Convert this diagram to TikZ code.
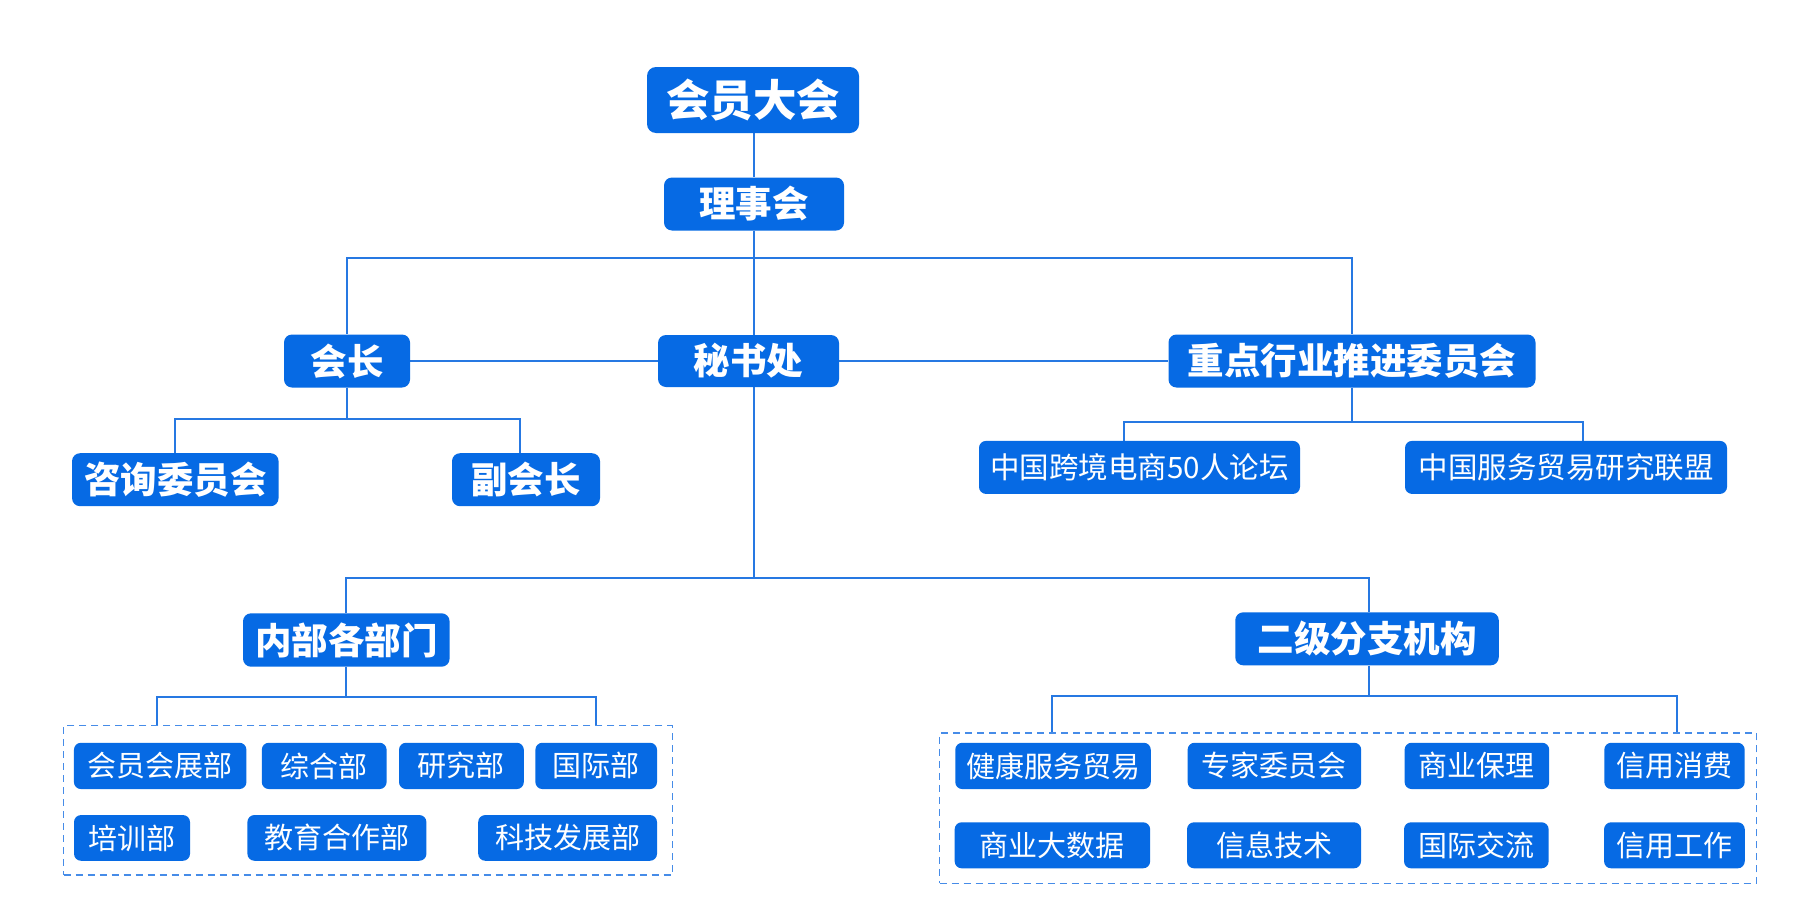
\documentclass[tikz,border=0pt]{standalone}
\usepackage{fontspec}
\newfontfamily\cjk{Noto Sans CJK SC}
\usetikzlibrary{backgrounds}
\definecolor{boxblue}{RGB}{6,106,228}
\definecolor{lineblue}{RGB}{38,120,226}
\definecolor{dashblue}{RGB}{70,140,232}
\tikzset{
  base/.style={fill=boxblue, text=white, inner sep=0pt, anchor=center},
  topbox/.style={base, rounded corners=9pt, font=\cjk\bfseries\fontsize{43.5}{47}\selectfont},
  bigbox/.style={base, rounded corners=8pt, font=\cjk\bfseries\fontsize{36.5}{40}\selectfont},
  midbox/.style={base, rounded corners=7pt, font=\cjk\fontsize{29.5}{33}\selectfont},
  smallbox/.style={base, rounded corners=7pt, font=\cjk\fontsize{29}{32}\selectfont},
  dashbox/.style={draw=dashblue, line width=1.4pt, dash pattern=on 7pt off 5pt, inner sep=0pt},
  conn/.style={draw=lineblue, line width=2pt},
}
\begin{document}
\begin{tikzpicture}[x=1pt,y=-1pt]
\useasboundingbox (0,0) rectangle (1801,918);

% dashed groups
\node[dashbox, minimum width=608.7pt, minimum height=149.3pt] (g1) at (368,800.4) {};
\node[dashbox, minimum width=817pt, minimum height=150.3pt] (g2) at (1348,808.2) {};

% main nodes
\node[topbox, minimum width=212pt, minimum height=66pt] (hy) at (753,100) {会员大会};
\node[bigbox, minimum width=180pt, minimum height=53pt] (lsh) at (754,204) {理事会};
\node[bigbox, minimum width=181pt, minimum height=52pt] (msc) at (748.5,361) {秘书处};
\node[bigbox, minimum width=126pt, minimum height=53pt] (hz) at (347,361) {会长};
\node[bigbox, minimum width=367pt, minimum height=53pt] (zd) at (1352,361) {重点行业推进委员会};
\node[bigbox, minimum width=206.5pt, minimum height=53pt] (zx) at (175.3,479.7) {咨询委员会};
\node[bigbox, minimum width=148pt, minimum height=53pt] (fhz) at (526,479.7) {副会长};
\node[midbox, minimum width=321pt, minimum height=53pt] (lt) at (1139.5,467.4) {中国跨境电商50人论坛};
\node[midbox, minimum width=322pt, minimum height=53pt] (lm) at (1566,467.4) {中国服务贸易研究联盟};
\node[bigbox, minimum width=206.6pt, minimum height=53.4pt] (nb) at (346.3,640) {内部各部门};
\node[bigbox, minimum width=263.5pt, minimum height=53pt] (ej) at (1367,638.8) {二级分支机构};

% left group
\node[smallbox, minimum width=172.5pt, minimum height=46.3pt] (a1) at (160.2,765.9) {会员会展部};
\node[smallbox, minimum width=124.8pt, minimum height=46.3pt] (a2) at (324.2,765.9) {综合部};
\node[smallbox, minimum width=124.8pt, minimum height=46.3pt] (a3) at (461.4,765.9) {研究部};
\node[smallbox, minimum width=121.6pt, minimum height=46.3pt] (a4) at (596.2,765.9) {国际部};
\node[smallbox, minimum width=116pt, minimum height=45.7pt] (b1) at (132,837.9) {培训部};
\node[smallbox, minimum width=179pt, minimum height=45.7pt] (b2) at (336.9,837.9) {教育合作部};
\node[smallbox, minimum width=178.8pt, minimum height=45.7pt] (b3) at (567.6,837.9) {科技发展部};

% right group
\node[smallbox, minimum width=195.5pt, minimum height=46.3pt] (c1) at (1053,765.9) {健康服务贸易};
\node[smallbox, minimum width=173.6pt, minimum height=46.3pt] (c2) at (1274.4,765.9) {专家委员会};
\node[smallbox, minimum width=144.6pt, minimum height=46.3pt] (c3) at (1476.9,765.9) {商业保理};
\node[smallbox, minimum width=140.4pt, minimum height=46.3pt] (c4) at (1674.5,765.9) {信用消费};
\node[smallbox, minimum width=195.5pt, minimum height=46pt] (d1) at (1052.4,845.3) {商业大数据};
\node[smallbox, minimum width=174pt, minimum height=46pt] (d2) at (1274,845.3) {信息技术};
\node[smallbox, minimum width=144.6pt, minimum height=46pt] (d3) at (1476.3,845.3) {国际交流};
\node[smallbox, minimum width=140.7pt, minimum height=46pt] (d4) at (1674.4,845.3) {信用工作};

% junction coordinates
\coordinate (j1) at (754,257.7);
\coordinate (j2) at (754,578.3);
\coordinate (jh) at (347,419.3);
\coordinate (jz) at (1352,421.7);
\coordinate (jn) at (346.3,696.7);
\coordinate (je) at (1368.7,696.3);

\begin{scope}[on background layer]
\fill[white] (0,0) rectangle (1801,918);
\draw[conn] (hy.south -| lsh) -- (lsh.north);
\draw[conn] (lsh.south) -- (j1) -- (j2);
\draw[conn] (j1) -| (hz.north);
\draw[conn] (j1) -| (zd.north);
\draw[conn] (hz.east) -- (msc.west);
\draw[conn] (msc.east) -- (zd.west);
% 会长 children
\draw[conn] (hz.south) -- (jh);
\draw[conn] (zx.north) |- (jh) -| ([xshift=-6pt]fhz.north);
% 重点 children
\draw[conn] (zd.south) -- (jz);
\draw[conn] ([xshift=-15.5pt]lt.north) |- (jz) -| ([xshift=17pt]lm.north);
% 秘书处 children
\draw[conn] (nb.north) |- (j2) -| (ej.north -| je);
% 内部各部门 group
\draw[conn] (nb.south) -- (jn);
\draw[conn] (g1.north -| 157,0) |- (jn) -| (g1.north -| 596.4,0);
% 二级分支机构 group
\draw[conn] (ej.south -| je) -- (je);
\draw[conn] (g2.north -| 1052,0) |- (je) -| (g2.north -| 1676.7,0);
\end{scope}
\end{tikzpicture}
\end{document}
